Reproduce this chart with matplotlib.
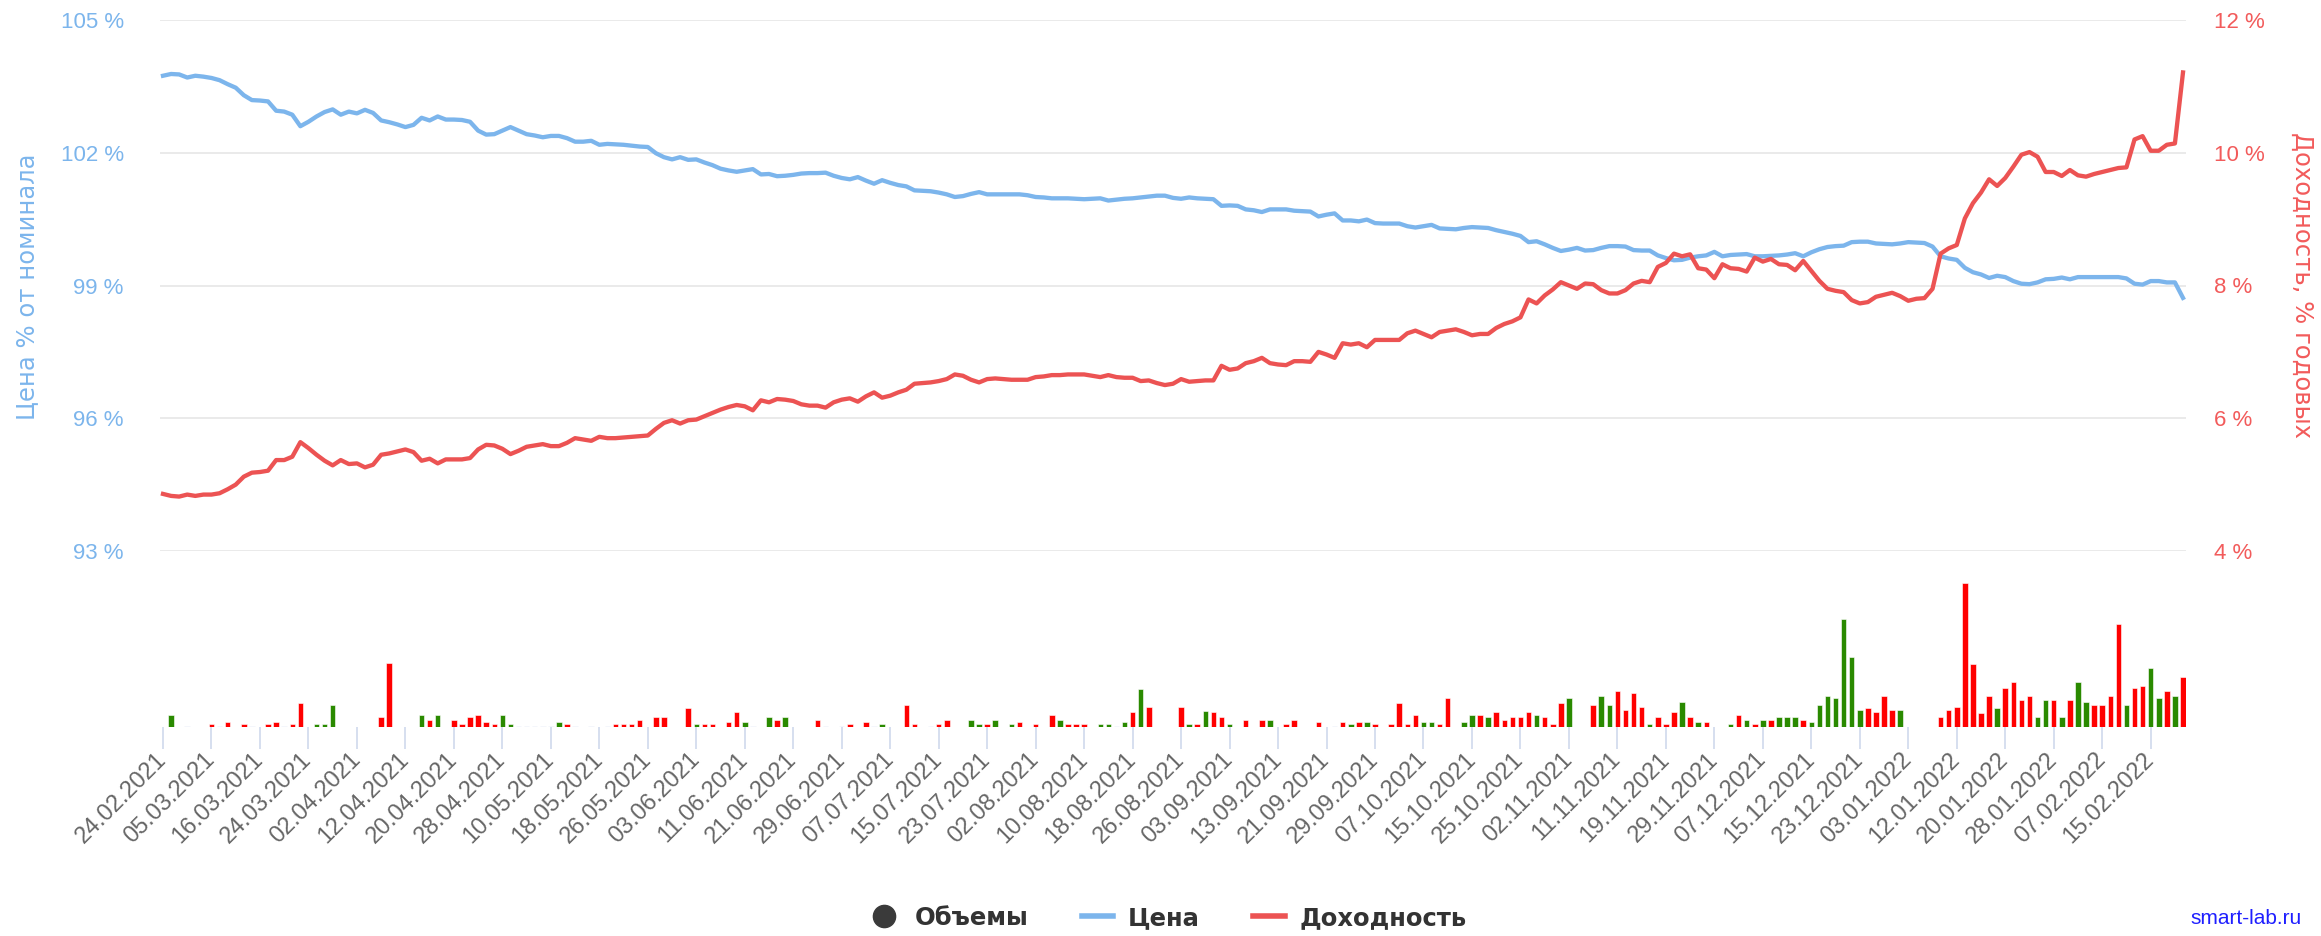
import matplotlib
matplotlib.use("Agg")
import matplotlib.pyplot as plt
from matplotlib.lines import Line2D

# ---------------- data ----------------
tick_labels = [
    "24.02.2021", "05.03.2021", "16.03.2021", "24.03.2021", "02.04.2021", "12.04.2021",
    "20.04.2021", "28.04.2021", "10.05.2021", "18.05.2021", "26.05.2021", "03.06.2021",
    "11.06.2021", "21.06.2021", "29.06.2021", "07.07.2021", "15.07.2021", "23.07.2021",
    "02.08.2021", "10.08.2021", "18.08.2021", "26.08.2021", "03.09.2021", "13.09.2021",
    "21.09.2021", "29.09.2021", "07.10.2021", "15.10.2021", "25.10.2021", "02.11.2021",
    "11.11.2021", "19.11.2021", "29.11.2021", "07.12.2021", "15.12.2021", "23.12.2021",
    "03.01.2022", "12.01.2022", "20.01.2022", "28.01.2022", "07.02.2022", "15.02.2022",
]
days_per_label = 6

# price, % of nominal (one value per trading day)
price = [
    103.74, 103.78, 103.77, 103.70, 103.74, 103.72, 103.69, 103.64, 103.55, 103.47,
    103.30, 103.19, 103.18, 103.16, 102.95, 102.93, 102.86, 102.60, 102.70, 102.82,
    102.92, 102.98, 102.86, 102.93, 102.89, 102.97, 102.90, 102.73, 102.69, 102.64,
    102.58, 102.63, 102.79, 102.73, 102.82, 102.75, 102.75, 102.74, 102.70, 102.50,
    102.41, 102.42, 102.50, 102.58, 102.50, 102.42, 102.39, 102.35, 102.38, 102.38,
    102.33, 102.25, 102.25, 102.27, 102.18, 102.20, 102.19, 102.18, 102.16, 102.14,
    102.13, 101.99, 101.90, 101.85, 101.90, 101.84, 101.85, 101.78, 101.72, 101.64,
    101.60, 101.57, 101.60, 101.63, 101.51, 101.52, 101.47, 101.48, 101.50, 101.53,
    101.54, 101.54, 101.55, 101.48, 101.43, 101.40, 101.45, 101.37, 101.30, 101.38,
    101.32, 101.27, 101.24, 101.15, 101.14, 101.13, 101.10, 101.06, 101.00, 101.02,
    101.07, 101.11, 101.06, 101.06, 101.06, 101.06, 101.06, 101.04, 101.00, 100.99,
    100.97, 100.97, 100.97, 100.96, 100.95, 100.96, 100.97, 100.92, 100.94, 100.96,
    100.97, 100.99, 101.01, 101.03, 101.03, 100.98, 100.96, 100.99, 100.97, 100.96,
    100.95, 100.80, 100.81, 100.80, 100.72, 100.70, 100.66, 100.72, 100.72, 100.72,
    100.69, 100.68, 100.67, 100.56, 100.60, 100.63, 100.47, 100.47, 100.45, 100.49,
    100.41, 100.40, 100.40, 100.40, 100.34, 100.31, 100.34, 100.37, 100.29, 100.28,
    100.27, 100.30, 100.32, 100.31, 100.30, 100.25, 100.21, 100.17, 100.12, 99.98,
    100.00, 99.93, 99.85, 99.78, 99.81, 99.85, 99.79, 99.80, 99.85, 99.89,
    99.89, 99.88, 99.80, 99.79, 99.79, 99.68, 99.62, 99.57, 99.58, 99.63,
    99.66, 99.68, 99.76, 99.66, 99.69, 99.70, 99.71, 99.66, 99.66, 99.67,
    99.68, 99.70, 99.73, 99.66, 99.75, 99.82, 99.87, 99.89, 99.90, 99.98,
    99.99, 99.99, 99.95, 99.94, 99.93, 99.95, 99.98, 99.97, 99.96, 99.88,
    99.66, 99.61, 99.58, 99.40, 99.30, 99.25, 99.17, 99.22, 99.19, 99.10,
    99.04, 99.03, 99.07, 99.14, 99.15, 99.18, 99.14, 99.19, 99.19, 99.19,
    99.19, 99.19, 99.19, 99.16, 99.04, 99.02, 99.10, 99.10, 99.07, 99.07,
    98.72,
]

# yield, % per annum
yield_pct = [
    4.86, 4.83, 4.82, 4.85, 4.83, 4.85, 4.85, 4.87, 4.93, 5.00,
    5.12, 5.18, 5.19, 5.21, 5.37, 5.37, 5.42, 5.64, 5.55, 5.45,
    5.36, 5.29, 5.37, 5.31, 5.32, 5.26, 5.30, 5.45, 5.47, 5.50,
    5.53, 5.49, 5.36, 5.39, 5.32, 5.38, 5.38, 5.38, 5.40, 5.53,
    5.60, 5.59, 5.54, 5.46, 5.51, 5.57, 5.59, 5.61, 5.58, 5.58,
    5.63, 5.70, 5.68, 5.66, 5.72, 5.70, 5.70, 5.71, 5.72, 5.73,
    5.74, 5.84, 5.93, 5.97, 5.92, 5.97, 5.98, 6.03, 6.08, 6.13,
    6.17, 6.20, 6.18, 6.12, 6.27, 6.24, 6.29, 6.28, 6.26, 6.21,
    6.19, 6.19, 6.16, 6.24, 6.28, 6.30, 6.25, 6.33, 6.39, 6.31,
    6.34, 6.39, 6.43, 6.52, 6.53, 6.54, 6.56, 6.59, 6.66, 6.64,
    6.58, 6.54, 6.59, 6.60, 6.59, 6.58, 6.58, 6.58, 6.62, 6.63,
    6.65, 6.65, 6.66, 6.66, 6.66, 6.64, 6.62, 6.65, 6.62, 6.61,
    6.61, 6.56, 6.57, 6.53, 6.50, 6.52, 6.59, 6.55, 6.56, 6.57,
    6.57, 6.79, 6.73, 6.75, 6.83, 6.86, 6.91, 6.83, 6.81, 6.80,
    6.86, 6.86, 6.85, 7.00, 6.96, 6.91, 7.13, 7.11, 7.13, 7.07,
    7.18, 7.18, 7.18, 7.18, 7.28, 7.32, 7.27, 7.22, 7.30, 7.32,
    7.34, 7.30, 7.25, 7.27, 7.27, 7.36, 7.42, 7.46, 7.52, 7.79,
    7.73, 7.85, 7.94, 8.05, 8.00, 7.95, 8.03, 8.02, 7.93, 7.88,
    7.88, 7.93, 8.03, 8.07, 8.05, 8.28, 8.34, 8.48, 8.44, 8.47,
    8.26, 8.24, 8.11, 8.32, 8.26, 8.25, 8.21, 8.42, 8.36, 8.40,
    8.32, 8.31, 8.23, 8.37, 8.22, 8.07, 7.95, 7.92, 7.90, 7.78,
    7.73, 7.75, 7.83, 7.86, 7.89, 7.84, 7.77, 7.80, 7.81, 7.95,
    8.48, 8.56, 8.61, 9.01, 9.24, 9.40, 9.60, 9.50, 9.62, 9.79,
    9.97, 10.01, 9.94, 9.71, 9.71, 9.65, 9.74, 9.66, 9.64, 9.68,
    9.71, 9.74, 9.77, 9.78, 10.20, 10.25, 10.03, 10.03, 10.12, 10.14,
    11.21,
]

# traded volume (relative units)
volume = [
    0, 8.2, 0, 0.8, 0, 0, 1.8, 0.8, 3.3, 0,
    1.8, 0.8, 0, 1.8, 3.3, 0.8, 1.8, 16.3, 0, 1.8,
    1.8, 14.5, 0, 0, 0, 0, 0, 6.7, 43, 0,
    0, 0, 8.2, 4.9, 8.2, 0, 4.9, 1.8, 6.7, 8.2,
    3.3, 1.8, 8.2, 1.8, 0.8, 0.8, 0.8, 0.8, 0.8, 3.3,
    1.8, 0.8, 0, 0.8, 0, 0.8, 1.8, 1.8, 1.8, 4.9,
    0, 6.7, 6.7, 0, 0, 12.9, 1.8, 1.8, 1.8, 0,
    3.3, 10, 3.3, 0.8, 0, 6.7, 4.9, 6.7, 0, 0,
    0, 4.9, 0.8, 0, 0.8, 1.8, 0, 3.3, 0.8, 1.8,
    0, 0, 14.5, 1.8, 0, 0.8, 1.8, 4.9, 0, 0,
    4.9, 1.8, 1.8, 4.9, 0, 1.8, 3.3, 0, 1.8, 0,
    8.2, 4.9, 1.8, 1.8, 1.8, 0, 1.8, 1.8, 0.8, 3.3,
    10, 25.6, 13.4, 0, 0, 0, 13.4, 1.8, 1.8, 11.1,
    10, 6.7, 1.8, 0, 4.9, 0, 4.9, 4.9, 0, 1.8,
    4.9, 0, 0, 3.3, 0, 0.8, 3.3, 1.8, 3.3, 3.3,
    1.8, 0, 1.8, 16.3, 1.8, 8.2, 3.3, 3.3, 1.8, 19.8,
    0, 3.3, 8.2, 8.2, 6.7, 10, 4.9, 6.7, 6.7, 10,
    8.2, 6.7, 1.8, 16.3, 19.8, 0, 0, 14.5, 21, 14.7,
    24.4, 11.3, 23, 13.5, 1.8, 6.8, 1.8, 10.2, 16.5, 6.8,
    3.4, 3.4, 0, 0, 1.8, 8.4, 5, 1.8, 5, 5,
    6.8, 6.8, 6.8, 5, 3.4, 14.7, 21, 19.6, 72.7, 47,
    11.3, 13.1, 10.2, 21, 11.3, 11.3, 0, 0, 0, 0,
    6.8, 11.3, 13.5, 97, 42.2, 9.7, 21, 13.1, 26, 30.5,
    18, 21, 6.8, 18, 18, 6.8, 18, 30.5, 16.5, 14.7,
    14.7, 21, 69.5, 14.7, 26, 27.5, 39.5, 19.6, 24.4, 21,
    33.9,
]
# day direction per trading day: g = up, r = down, n = unchanged, - = no trades
direction = list(
    "-g-n--rnr-" "rn-rrnrr-g" "gg-----rr-" "--grg-rrrr" "rrggnnnnng"
    "rn-n-nrrrr" "-rr--rgrr-" "rrgn-grg--" "-rn-nr-rng" "--rr-nrr--"
    "ggrg-gr-r-" "rgrrr-ggng" "rgr---rgrg" "rrg-r-rg-r" "r--r-nrgrg"
    "r-rrrrggrr" "-ggrgrrrrr" "grrrg--rgg" "rrrrgrrrgr" "gr--grgrgr"
    "gggrgggggg" "grrrrg----" "rrrrrrrgrr" "rrggrgrggr" "rrrgrrggrg"
    "r"
)

# ---------------- styling ----------------
BLUE = "#7cb5ec"
RED_LINE = "#ec5353"
RED_TXT = "#f25b5b"
COLORS = {"g": "#2a8a00", "r": "#ff0000", "n": "#d3dbee", "-": "white"}
W, H = 2321, 936

fig = plt.figure(figsize=(W / 100, H / 100), dpi=100)

n = len(price)
x = list(range(n))
px_per_day = 8.08
x0 = -0.4
x1 = n - 1 + 0.4
left_px = 163 + x0 * px_per_day
width_px = (x1 - x0) * px_per_day

ax = fig.add_axes([left_px / W, 1 - 551 / H, width_px / W, (551 - 20) / H])
ax2 = ax.twinx()
axv = fig.add_axes([left_px / W, 1 - 727 / H, width_px / W, 148.5 / H])

tick_font = dict(family=["Liberation Sans", "DejaVu Sans"], size=16)

# price axis
ax.plot(x, price, color=BLUE, lw=3.1, solid_joinstyle="round", zorder=3)
ax.set_xlim(x0, x1)
ax.set_ylim(93, 105)
ax.set_yticks([93, 96, 99, 102, 105])
ax.set_yticklabels([f"{v} %" for v in [93, 96, 99, 102, 105]], color=BLUE,
                   va="center_baseline", **tick_font)
ax.tick_params(axis="y", length=0, pad=26)
ax.tick_params(axis="x", bottom=False, labelbottom=False)
ax.grid(axis="y", color="#e6e6e6", lw=1.2)
ax.set_axisbelow(True)
for s in ax.spines.values():
    s.set_visible(False)

# yield axis
ax2.plot(x, yield_pct, color=RED_LINE, lw=3.1, solid_joinstyle="round", zorder=4)
ax2.set_ylim(4, 12)
ax2.set_yticks([4, 6, 8, 10, 12])
ax2.set_yticklabels([f"{v} %" for v in [4, 6, 8, 10, 12]], color=RED_TXT,
                    va="center_baseline", **tick_font)
ax2.tick_params(axis="y", length=0, pad=20)
for s in ax2.spines.values():
    s.set_visible(False)

# volume axis
bar_colors = [COLORS[d] for d in direction]
axv.bar(x, volume, width=0.68, color=bar_colors, edgecolor="white", linewidth=0.4)
axv.set_xlim(x0, x1)
axv.set_ylim(0, 100)
axv.set_yticks([])
for s in axv.spines.values():
    s.set_visible(False)
tick_pos = [i * days_per_label for i in range(len(tick_labels))]
axv.set_xticks(tick_pos)
axv.set_xticklabels(tick_labels, rotation=45, ha="right", va="center",
                    rotation_mode="anchor", color="#666666",
                    family=["Liberation Sans", "DejaVu Sans"], size=17)
axv.tick_params(axis="x", length=16, width=1.1, color="#ccd6eb", pad=5)

# axis titles
fig.text(27 / W, 1 - 287 / H, "Цена % от номинала", rotation=90, ha="center", va="center",
         color=BLUE, fontsize=17.5, family="DejaVu Sans")
fig.text(2302 / W, 1 - 285 / H, "Доходность, % годовых", rotation=270, ha="center",
         va="center", color=RED_TXT, fontsize=17.5, family="DejaVu Sans")

# legend
handles = [
    Line2D([], [], marker="o", ls="none", color="#3a3a3a", markersize=16),
    Line2D([], [], color=BLUE, lw=4),
    Line2D([], [], color=RED_LINE, lw=4),
]
leg = fig.legend(handles, ["Объемы", "Цена", "Доходность"], loc="center",
                 bbox_to_anchor=(0.503, 1 - 918 / H), ncol=3, frameon=False,
                 handlelength=1.3, handletextpad=0.6, columnspacing=2.2,
                 prop=dict(family="DejaVu Sans", weight="bold", size=17.5))
for t in leg.get_texts():
    t.set_color("#333333")

fig.text(2246 / W, 1 - 918 / H, "smart-lab.ru", ha="center", va="center",
         color="#1f1fff", fontsize=15, family=["Liberation Sans", "DejaVu Sans"])

fig.savefig("out.png", dpi=100)
